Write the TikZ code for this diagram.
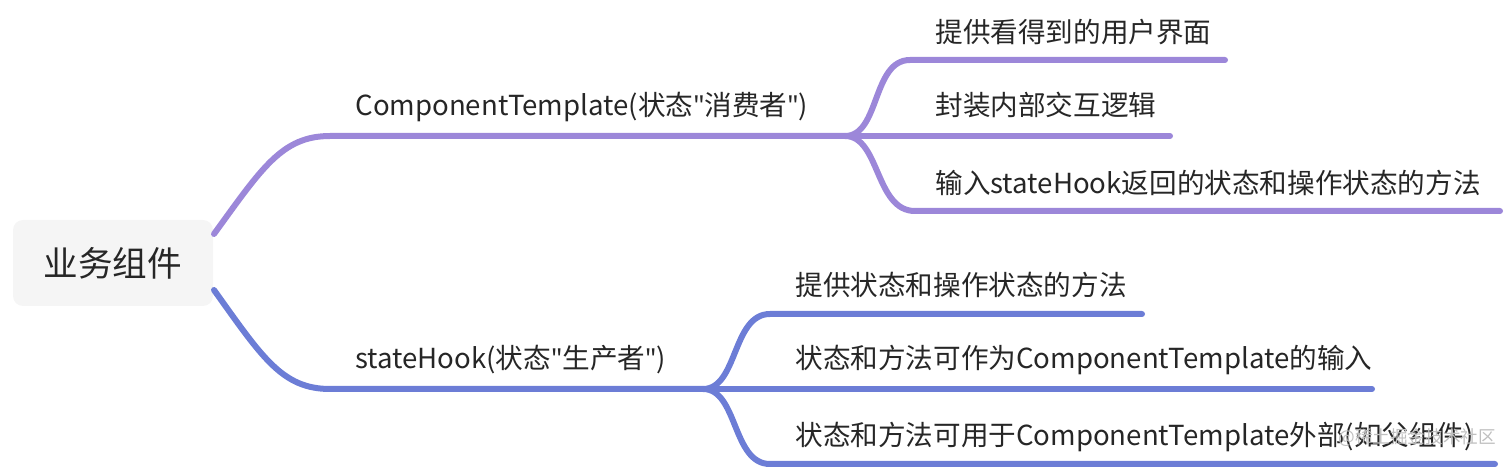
\documentclass[tikz,border=0pt]{standalone}
\usepackage{fontspec}
\setmainfont{Noto Sans CJK SC}
\newfontfamily\lat{Noto Sans}
\newcommand{\q}{{\lat "}}
\definecolor{purp}{HTML}{9C87D9}
\definecolor{blu}{HTML}{6C7DD6}
\definecolor{txt}{HTML}{262626}
\definecolor{rootbg}{HTML}{F5F5F5}
\begin{document}
\begin{tikzpicture}[x=0.5pt,y=-0.5pt,
  lbl/.style={anchor=west,inner sep=0pt,text=txt,font=\fontsize{13.8pt}{16pt}\selectfont},
  rootbox/.style={fill=rootbg,rounded corners=5pt,minimum width=100pt,minimum height=43pt,inner sep=0pt,text=txt,font=\fontsize{17.3pt}{20pt}\selectfont},
  pline/.style={draw=purp,line width=3pt,line cap=round},
  bline/.style={draw=blu,line width=3pt,line cap=round}]
\useasboundingbox (0,0) rectangle (1512,470);
\node[rootbox] (root) at (113,263) {业务组件};
% top branch
\coordinate (rt) at (214,234);
\coordinate (f1) at (845,136);
\coordinate (t1s) at (910,60);
\coordinate (t1e) at (1225,60);
\coordinate (t2e) at (1170,136);
\coordinate (t3s) at (915,211);
\coordinate (t3e) at (1500,211);
\draw[pline] (rt) .. controls (262,168) and (282,136) .. (330,136) -- (f1);
\draw[pline] (f1) .. controls (880,136) and (872,60) .. (t1s) -- (t1e);
\draw[pline] (f1) -- (t2e);
\draw[pline] (f1) .. controls (880,136) and (875,211) .. (t3s) -- (t3e);
\node[lbl] (n1) at (355,107) {ComponentTemplate(状态\q 消费者\q)};
\node[lbl] (n11) at (935,32) {提供看得到的用户界面};
\node[lbl] (n12) at (935,105) {封装内部交互逻辑};
\node[lbl] (n13) at (935,183) {输入stateHook返回的状态和操作状态的方法};
% bottom branch
\coordinate (rb) at (214,290);
\coordinate (f2) at (703,389);
\coordinate (b1s) at (770,314);
\coordinate (b1e) at (1142,314);
\coordinate (b2e) at (1372,389);
\coordinate (b3s) at (770,464);
\coordinate (b3e) at (1495,464);
\draw[bline] (rb) .. controls (262,357) and (282,389) .. (330,389) -- (f2);
\draw[bline] (f2) .. controls (738,389) and (732,314) .. (b1s) -- (b1e);
\draw[bline] (f2) -- (b2e);
\draw[bline] (f2) .. controls (738,389) and (732,464) .. (b3s) -- (b3e);
\node[lbl] (n2) at (355,360) {stateHook(状态\q 生产者\q)};
\node[lbl] (n21) at (795,285) {提供状态和操作状态的方法};
\node[lbl] (n22) at (795,360) {状态和方法可作为ComponentTemplate的输入};
\node[lbl] (n23) at (795,437) {状态和方法可用于ComponentTemplate外部(如父组件)};
\node[anchor=west,inner sep=0pt,text=black!25,font=\fontsize{8.8pt}{10pt}\selectfont] (wm) at (1338,438) {@稀土掘金技术社区};
\end{tikzpicture}
\end{document}
